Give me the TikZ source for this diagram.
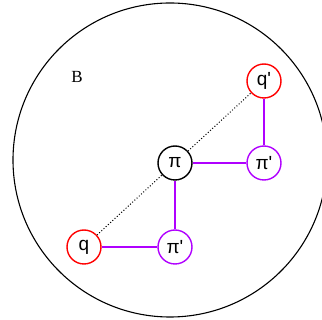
\documentclass[tikz,border=0pt]{standalone}
\usepackage{fontspec}
\setmainfont{Liberation Serif}
\setsansfont{Liberation Sans}
\usepackage{tikz}

\definecolor{lila}{RGB}{176,0,255}

\begin{document}
\begin{tikzpicture}[
	x=1pt, y=-1pt,
	pt/.style={draw, circle, minimum size=34pt, inner sep=0pt, line width=1.4pt, fill=white, font=\sffamily\fontsize{19}{19}\selectfont},
	redpt/.style={pt, draw=red},
	lilapt/.style={pt, draw=lila},
	link/.style={draw=lila, line width=1.6pt},
	dots/.style={dotted, line width=1pt}
]
\useasboundingbox (0,0) rectangle (322,320);

% Grenze
\node[draw, circle, minimum size=314pt, inner sep=0pt, line width=1.1pt] (ball) at (170,160) {};
\node[font=\fontsize{17}{17}\selectfont] (B) at (77,77) {B};

% Punkte
\node[pt] (pi) at (175,163) {π};
\node[redpt] (qp) at (264,81) {q\textquotesingle};
\node[lilapt] (pia) at (264,163) {π\textquotesingle};
\node[redpt] (q) at (84,247) {q};
\node[lilapt] (pib) at (175,247) {π\textquotesingle};

% Verbindungen
\draw[dots] (q) -- (pi) -- (qp);
\draw[link] (pi) -- (pia);
\draw[link] (pia) -- (qp);
\draw[link] (pi) -- (pib);
\draw[link] (pib) -- (q);
\end{tikzpicture}
\end{document}
